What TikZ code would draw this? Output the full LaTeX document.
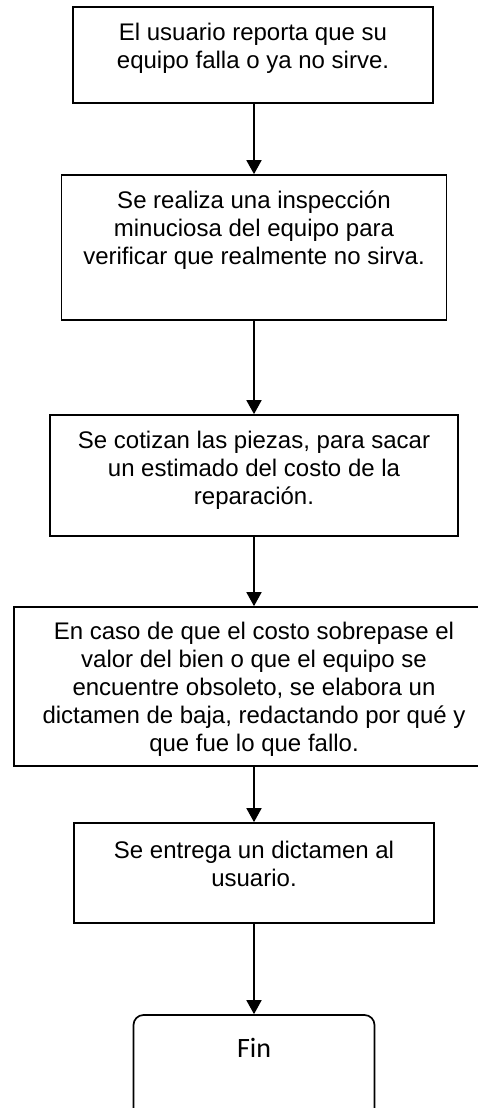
\documentclass[tikz,border=0pt]{standalone}
\usepackage{fontspec}
\setmainfont{Liberation Sans}
\newfontfamily\finfont{Carlito}
\usetikzlibrary{arrows.meta}
\tikzset{
  procbox/.style={draw=black, line width=1.7pt, rectangle, inner sep=0pt},
  endbox/.style={draw=black, line width=1.7pt, rectangle, rounded corners=10pt, inner sep=0pt},
  boxtext/.style={align=center, inner sep=0pt, font=\fontsize{24}{28}\selectfont},
  flow/.style={draw=black, line width=1.7pt, -{Triangle[width=15pt,length=14pt]}}
}
\begin{document}
\begin{tikzpicture}[x=1pt,y=-1pt]
\useasboundingbox (0,0) rectangle (477,1108);
\node[procbox, minimum width=360pt, minimum height=96pt] (b1) at (253,55) {};
\node[boxtext] (t1) at (253,48) {El usuario reporta que su\\equipo falla o ya no sirve.};
\node[procbox, minimum width=385pt, minimum height=145pt] (b2) at (254,247.5) {};
\node[boxtext] (t2) at (254,230) {Se realiza una inspección\\minuciosa del equipo para\\verificar que realmente no sirva.};
\node[procbox, minimum width=408pt, minimum height=121pt] (b3) at (254,475.5) {};
\node[boxtext] (t3) at (254,470.5) {Se cotizan las piezas, para sacar\\un estimado del costo de la\\reparación.};
\node[procbox, minimum width=480pt, minimum height=159pt] (b4) at (254,686.5) {};
\node[boxtext] (t4) at (254,689.5) {En caso de que el costo sobrepase el\\valor del bien o que el equipo se\\encuentre obsoleto, se elabora un\\dictamen de baja, redactando por qué y\\que fue lo que fallo.};
\node[procbox, minimum width=360pt, minimum height=100pt] (b5) at (254,873) {};
\node[boxtext] (t5) at (254,863.5) {Se entrega un dictamen al\\usuario.};
\node[endbox, minimum width=241pt, minimum height=110pt] (b6) at (254,1070) {};
\node[inner sep=0pt, font=\finfont\fontsize{28}{32}\selectfont] (t6) at (254,1048) {Fin};
\draw[flow] (b2.north |- b1.south) -- (b2.north);
\draw[flow] (b2.south) -- (b3.north);
\draw[flow] (b3.south) -- (b4.north);
\draw[flow] (b4.south) -- (b5.north);
\draw[flow] (b5.south) -- (b6.north);
\end{tikzpicture}
\end{document}
